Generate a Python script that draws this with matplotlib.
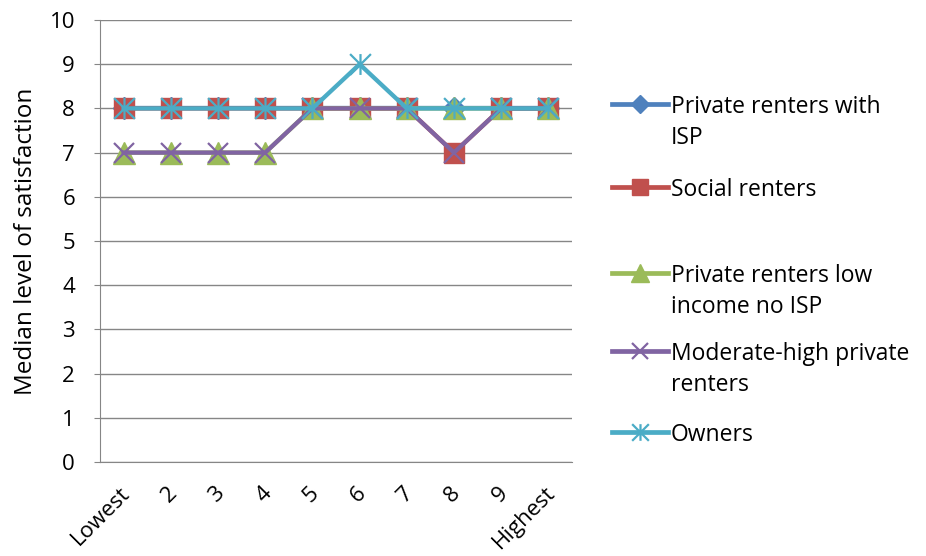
import matplotlib.pyplot as plt
import matplotlib.transforms as mtransforms
from matplotlib.lines import Line2D
from matplotlib.path import Path

# Categories (income decile) and median satisfaction per group
categories = ['Lowest', '2', '3', '4', '5', '6', '7', '8', '9', 'Highest']
private_isp = [8, 8, 8, 8, 8, 8, 8, 8, 8, 8]
social = [8, 8, 8, 8, 8, 8, 8, 7, 8, 8]
private_low_no_isp = [7, 7, 7, 7, 8, 8, 8, 8, 8, 8]
moderate_high = [7, 7, 7, 7, 8, 8, 8, 7, 8, 8]
owners = [8, 8, 8, 8, 8, 9, 8, 8, 8, 8]

labels = ['Private renters with\nISP', 'Social renters',
          'Private renters low\nincome no ISP', 'Moderate-high private\nrenters', 'Owners']

plt.rcParams['font.family'] = ['Open Sans', 'DejaVu Sans']

# Excel style star marker: x with a vertical bar
star = Path([(0, -1), (0, 1), (-1, -1), (1, 1), (-1, 1), (1, -1)],
            [Path.MOVETO, Path.LINETO, Path.MOVETO, Path.LINETO, Path.MOVETO, Path.LINETO])

styles = [
    dict(color='#4F81BD', marker='D', ms=11, mfc='#4F81BD', mec='#4F81BD'),
    dict(color='#C0504D', marker='s', ms=14.5, mfc='#C0504D', mec='#C0504D'),
    dict(color='#9BBB59', marker='^', ms=15.5, mfc='#9BBB59', mec='#9BBB59'),
    dict(color='#8064A2', marker='x', ms=15, mew=1.6, mec='#8064A2'),
    dict(color='#4BACC6', marker=star, ms=15, mew=1.6, mec='#4BACC6'),
]

fig = plt.figure(figsize=(9.26, 5.56), dpi=100)
ax = fig.add_axes([100 / 926, 1 - 462 / 556, 472 / 926, 442 / 556])

x = range(len(categories))
series = [private_isp, social, private_low_no_isp, moderate_high, owners]
for vals, st in zip(series, styles):
    ax.plot(x, vals, lw=3.1, **st)

ax.set_xlim(-0.5, len(categories) - 0.5)
ax.set_ylim(0, 10)
ax.set_yticks(range(0, 11))
ax.set_xticks(list(x))
ax.set_xticklabels(categories, rotation=45, ha='right', va='top', rotation_mode='anchor')
ax.tick_params(axis='x', length=0, pad=15, labelsize=16)
ax.tick_params(axis='y', length=4, color='#868686', labelsize=16, pad=14)
shift = mtransforms.ScaledTranslation(-4 / 100, 0, fig.dpi_scale_trans)
for lbl in ax.get_xticklabels():
    lbl.set_transform(lbl.get_transform() + shift)
ax.grid(axis='y', color='#868686', lw=1)
ax.set_axisbelow(True)
for s in ['top', 'right']:
    ax.spines[s].set_visible(False)
for s in ['left', 'bottom']:
    ax.spines[s].set_color('#868686')
ax.set_ylabel('Median level of satisfaction', fontsize=17.5, labelpad=8)

# legend drawn by hand to match the uneven spacing
legend_y = [104, 187, 273, 351, 432]
for lab, st, yy in zip(labels, styles, legend_y):
    yf = 1 - yy / 556
    fig.add_artist(Line2D([612 / 926, 668 / 926], [yf, yf], transform=fig.transFigure,
                          lw=3.4, color=st['color']))
    mk = {k: v for k, v in st.items() if k != 'ms'}
    fig.add_artist(Line2D([640 / 926], [yf], transform=fig.transFigure, lw=0,
                          ms=st['ms'] * 0.8, **mk))
    for i, line in enumerate(lab.split('\n')):
        fig.text(671 / 926, 1 - (yy + 31 * i) / 556, line, fontsize=16.5,
                 va='center_baseline', ha='left')

fig.savefig('out.png', dpi=100)
